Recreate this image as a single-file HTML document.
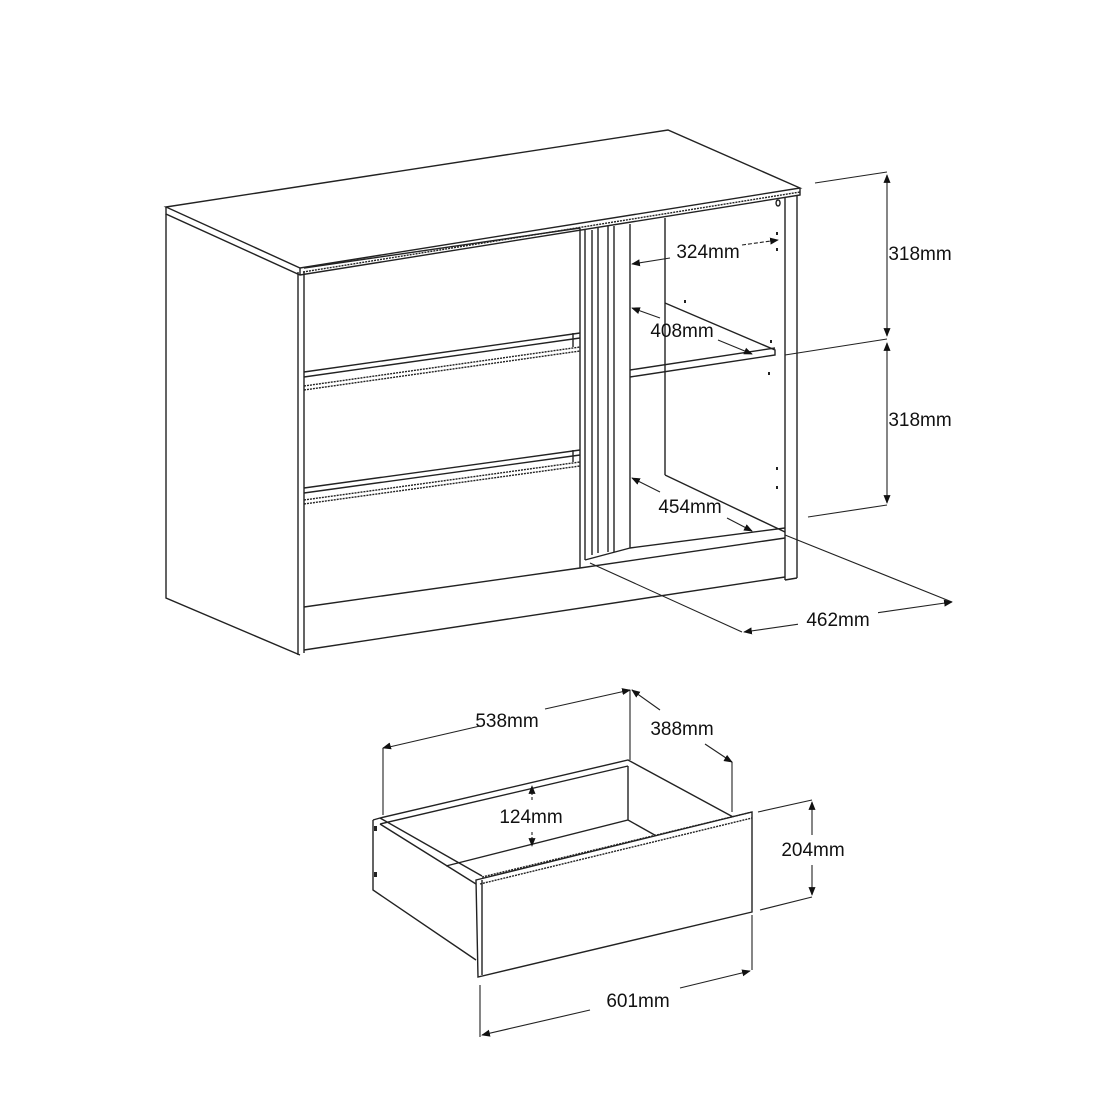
<!DOCTYPE html>
<html><head><style>
html,body{margin:0;padding:0;background:#fff;}
svg{display:block;}
text{font-family:"Liberation Sans",sans-serif;font-size:19px;fill:#111;text-anchor:middle;}
</style></head><body>
<svg width="1100" height="1100" viewBox="0 0 1100 1100" xmlns="http://www.w3.org/2000/svg">
<defs>
<marker id="a" viewBox="0 0 10 10" refX="9" refY="5" markerWidth="8" markerHeight="8" orient="auto-start-reverse"><path d="M0,1 L10,5 L0,9 z" fill="#111"/></marker>
</defs>
<g fill="none" stroke="#222" stroke-width="1.4">
<polygon points="166,207 668,130 800,188 300,268" fill="#fff"/>
<path d="M166,207 L166,214 L300,275 L800,195 L800,188"/>
<path d="M300,268 L300,275" />
<path d="M303,272 L800,192" stroke-dasharray="2 1"/>
<path d="M166,214 L166,598 L300,655"/>
<path d="M298,272 L298,655 M304,272 L304,653"/>
<path d="M304,268 L580,228"/>
<path d="M304,372 L580,333 M304,377 L580,338"/>
<path d="M304,386 L580,347 M304,390 L580,351" stroke-dasharray="2 1"/>
<path d="M304,488 L580,450 M304,493 L580,455"/>
<path d="M304,500 L580,462 M304,504 L580,466" stroke-dasharray="2 1"/>
<path d="M304,607 L580,568"/>
<path d="M573,333 L573,347 M573,450 L573,462"/>
<path d="M304,650 L785,577"/>
<path d="M580,228 L580,568"/>
<path d="M585,230 L585,560 M592,230 L592,555 M598,228 L598,553 M608,226 L608,552 M614,226 L614,552 M630,224 L630,548"/>
<path d="M585,560 L630,548"/>
<path d="M580,568 L785,538"/>
<path d="M665,218 L665,475"/>
<path d="M665,303 L775,350 L775,355 L630,377 M630,370 L775,348"/>
<path d="M665,475 L785,532 M630,548 L785,528"/>
<path d="M785,198 L785,580 M797,196 L797,578 M785,580 L797,578"/>
<path d="M778,200 a2,3 0 1,0 0.1,0"/>
</g>
<g fill="#222">
<rect x="776" y="232" width="2" height="3"/><rect x="776" y="248" width="2" height="3"/>
<rect x="684" y="300" width="2" height="3"/>
<rect x="770" y="340" width="2" height="3"/><rect x="768" y="372" width="2" height="3"/>
<rect x="776" y="467" width="2" height="3"/><rect x="776" y="486" width="2" height="3"/>
</g>
<g stroke="#222" stroke-width="1.1" fill="none">
<path d="M815,183 L887,172 M785,355 L887,339 M808,517 L887,505"/>
<path d="M887,175 L887,336" marker-start="url(#a)" marker-end="url(#a)"/>
<path d="M887,343 L887,503" marker-start="url(#a)" marker-end="url(#a)"/>
<path d="M785,535 L952,602 M590,563 L742,632"/>
<path d="M744,632 L952,602" marker-start="url(#a)" marker-end="url(#a)"/>
<path d="M742,245 L778,240" marker-end="url(#a)" stroke-dasharray="4 2"/>
<path d="M670,258 L632,264" marker-end="url(#a)"/>
<path d="M660,318 L632,308" marker-end="url(#a)"/>
<path d="M718,340 L752,354" marker-end="url(#a)"/>
<path d="M660,492 L632,478" marker-end="url(#a)"/>
<path d="M727,518 L752,531" marker-end="url(#a)"/>
</g>
<rect x="798" y="608" width="80" height="22" fill="#fff"/>
<text x="920" y="260">318mm</text>
<text x="920" y="426">318mm</text>
<text x="838" y="626">462mm</text>
<text x="708" y="258">324mm</text>
<text x="682" y="337">408mm</text>
<text x="690" y="513">454mm</text>
<g fill="none" stroke="#222" stroke-width="1.4">
<path d="M373,820 L380,818 L628,760 L735,818"/>
<path d="M380,824 L628,766 M628,766 L628,820 M446,866 L628,820 L660,838"/>
<path d="M373,820 L373,890 L476,960"/>
<path d="M380,818 L482,876"/>
<path d="M380,824 L476,884"/>
<polygon points="476,880 752,812 752,912 478,977" fill="#fff"/>
<path d="M482,880 L482,975"/>
<path d="M482,877 L752,812 M480,884 L752,818" stroke-dasharray="2 1"/>
</g>
<g fill="#222"><rect x="374" y="826" width="3" height="5"/><rect x="374" y="872" width="3" height="5"/></g>
<g stroke="#222" stroke-width="1.1" fill="none">
<path d="M383,815 L383,748 M630,760 L630,690 M732,812 L732,762"/>
<path d="M385,748 L480,726 M545,709 L630,690" />
<path d="M383,748 L390,746" marker-start="url(#a)"/>
<path d="M625,691 L630,690" marker-end="url(#a)"/>
<path d="M632,690 L660,710 M705,744 L732,762" />
<path d="M632,690 L636,693" marker-start="url(#a)"/>
<path d="M727,759 L732,762" marker-end="url(#a)"/>
<path d="M532,800 L532,786" marker-end="url(#a)" stroke-dasharray="3 2"/>
<path d="M532,832 L532,846" marker-end="url(#a)" stroke-dasharray="3 2"/>
<path d="M758,812 L812,800 M760,910 L812,897"/>
<path d="M812,835 L812,802" marker-end="url(#a)"/>
<path d="M812,865 L812,895" marker-end="url(#a)"/>
<path d="M480,985 L480,1037 M752,915 L752,970"/>
<path d="M590,1010 L482,1035" marker-end="url(#a)"/>
<path d="M680,988 L750,971" marker-end="url(#a)"/>
</g>
<text x="507" y="727">538mm</text>
<text x="682" y="735">388mm</text>
<text x="531" y="823">124mm</text>
<text x="813" y="856">204mm</text>
<text x="638" y="1007">601mm</text>
</svg>
</body></html>
